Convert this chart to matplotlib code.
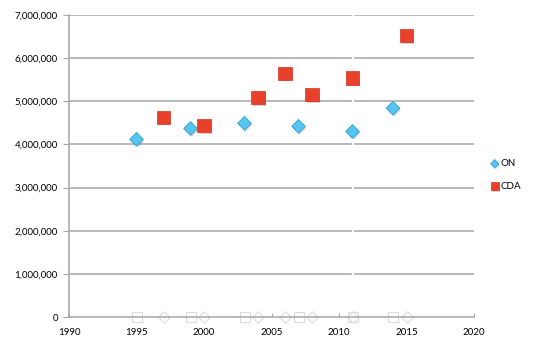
import matplotlib.pyplot as plt
import matplotlib.patheffects as pe
from matplotlib.ticker import FuncFormatter

# data
on_years = [1995, 1999, 2003, 2007, 2011, 2014]
on_vals = [4120000, 4370000, 4490000, 4420000, 4300000, 4840000]
cda_years = [1997, 2000, 2004, 2006, 2008, 2011, 2015]
cda_vals = [4630000, 4440000, 5090000, 5650000, 5150000, 5540000, 6530000]
x_ticks = [1990, 1995, 2000, 2005, 2010, 2015, 2020]
y_ticks = [0, 1000000, 2000000, 3000000, 4000000, 5000000, 6000000, 7000000]

plt.rcParams['font.family'] = ['Lato', 'DejaVu Sans']

fig = plt.figure(figsize=(5.4, 3.48), dpi=100)
ax = fig.add_axes([0.1278, 0.089, 0.75, 0.868])

grid_c = '#a6a6a6'
for y in y_ticks[1:]:
    ax.axhline(y, color=grid_c, lw=1.1, zorder=1)
# the white break in the gridlines at 2011
ax.axvline(2011, color='white', lw=1.5, zorder=1.5)

shadow = [pe.SimplePatchShadow(offset=(0.8, -1.2), alpha=0.2), pe.Normal()]

# faint ghost markers sitting on the x axis
ax.scatter(on_years, [0] * len(on_years), marker='s', s=50, c='white',
           edgecolors='#dcdcdc', lw=0.8, zorder=2, clip_on=False)
ax.scatter(cda_years, [0] * len(cda_years), marker='D', s=35, c='white',
           edgecolors='#dcdcdc', lw=0.8, zorder=2, clip_on=False)

ax.scatter(on_years, on_vals, marker='D', s=48, c='#55c6f2',
           edgecolors='#2f9fd3', lw=0.6, zorder=3, label='ON',
           path_effects=shadow)
ax.scatter(cda_years, cda_vals, marker='s', s=90, c='#e8402a',
           edgecolors='#d33520', lw=0.5, zorder=3, label='CDA',
           path_effects=shadow)

ax.set_xlim(1990, 2020)
ax.set_ylim(0, 7000000)
ax.set_xticks(x_ticks)
ax.set_yticks(y_ticks)
ax.yaxis.set_major_formatter(FuncFormatter(lambda v, p: f'{int(v):,}'))

for s in ['top', 'right']:
    ax.spines[s].set_visible(False)
for s in ['left', 'bottom']:
    ax.spines[s].set_color(grid_c)
    ax.spines[s].set_linewidth(1.1)

ax.tick_params(axis='x', direction='in', length=3, color=grid_c,
               labelsize=7, pad=8)
ax.tick_params(axis='y', direction='out', length=4, color=grid_c,
               labelsize=7, pad=4)

ax.legend(loc='center left', bbox_to_anchor=(1.02, 0.47), frameon=False,
          fontsize=7, handletextpad=0.2, labelspacing=1.4,
          handlelength=0.8, markerscale=0.6)

fig.savefig('out.png', dpi=100)
